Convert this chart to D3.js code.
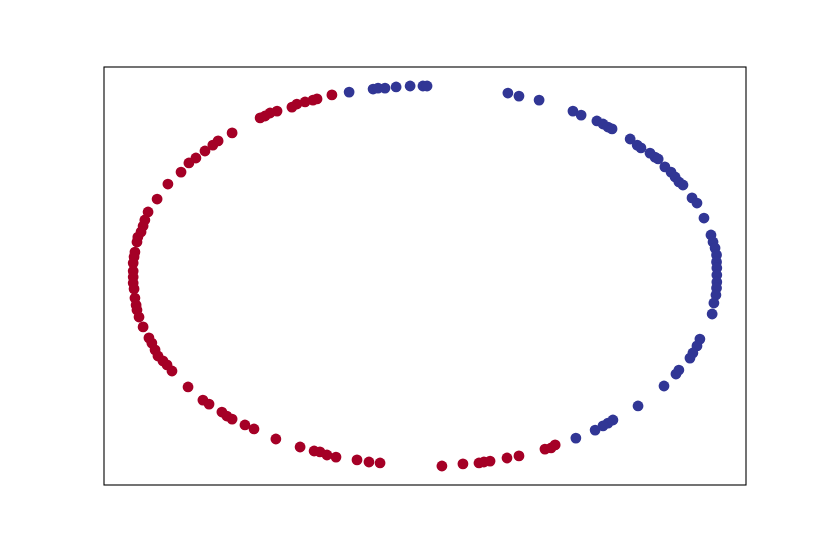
<!DOCTYPE html>
<html>
<head>
<meta charset="utf-8">
<script src="https://cdn.jsdelivr.net/npm/d3@7"></script>
<style>
  body { margin: 0; background: #fff; }
  svg { display: block; }
</style>
</head>
<body>
<div id="chart"></div>
<script>
// points, in data units (circle of radius 1)
var redX = [-0.319,-0.370,-0.384,-0.411,-0.439,-0.456,-0.507,-0.531,-0.548,-0.565,
            -0.661,-0.709,-0.727,-0.754,-0.785,-0.809,-0.836,-0.881,-0.918,-0.949,
            -0.960,-0.966,-0.973,-0.984,-0.987,-0.994,-0.997,-1.000,-1.000,-1.000,
            -1.000,-0.997,-0.994,-0.990,-0.987,-0.980,-0.966,-0.946,-0.936,-0.925,
            -0.915,-0.898,-0.884,-0.867,-0.812,-0.761,-0.740,-0.696,-0.679,-0.661,
            -0.617,-0.586,-0.511,-0.428,-0.380,-0.360,-0.336,-0.305,-0.233,-0.192,
            -0.154,0.058,0.130,0.185,0.202,0.223,0.281,0.322,0.411,0.432,0.446];
var redY = [0.953,0.932,0.926,0.916,0.905,0.889,0.868,0.858,0.842,0.832,
            0.753,0.711,0.689,0.658,0.621,0.595,0.547,0.484,0.405,0.337,
            0.295,0.263,0.232,0.205,0.179,0.126,0.100,0.068,0.026,-0.005,
            -0.037,-0.068,-0.116,-0.153,-0.179,-0.216,-0.268,-0.326,-0.353,-0.389,
            -0.421,-0.447,-0.468,-0.500,-0.584,-0.653,-0.674,-0.716,-0.737,-0.753,
            -0.784,-0.805,-0.858,-0.900,-0.921,-0.926,-0.942,-0.953,-0.968,-0.979,
            -0.984,-1.000,-0.989,-0.984,-0.979,-0.974,-0.958,-0.947,-0.911,-0.905,-0.889];

var blueX = [-0.260,-0.178,-0.161,-0.137,-0.099,-0.051,-0.007,0.007,0.284,0.322,
             0.391,0.507,0.535,0.589,0.610,0.627,0.641,0.703,0.727,0.740,
             0.771,0.788,0.799,0.822,0.843,0.857,0.870,0.884,0.915,0.932,
             0.956,0.980,0.987,0.994,0.999,0.999,1.000,1.000,1.000,0.999,
             0.997,0.990,0.984,0.942,0.932,0.918,0.908,0.870,0.860,0.819,
             0.730,0.644,0.627,0.610,0.583,0.517];
var blueY = [0.968,0.984,0.989,0.989,0.995,1.000,1.000,1.000,0.963,0.947,
             0.926,0.868,0.847,0.816,0.800,0.784,0.774,0.721,0.689,0.674,
             0.647,0.626,0.616,0.574,0.547,0.521,0.495,0.479,0.411,0.384,
             0.305,0.216,0.179,0.147,0.111,0.074,0.042,0.005,-0.032,-0.063,
             -0.100,-0.142,-0.200,-0.332,-0.368,-0.405,-0.432,-0.495,-0.516,-0.579,
             -0.684,-0.758,-0.774,-0.789,-0.811,-0.853];

var classColors = ["#a50026", "#313695"];

var width = 830,
    height = 554;

var frame = { left: 104, right: 746, top: 67, bottom: 485 };

var x = d3.scaleLinear().domain([-1.1, 1.1]).range([frame.left, frame.right]);
var y = d3.scaleLinear().domain([-1.1, 1.1]).range([frame.bottom, frame.top]);

var svg = d3.select('#chart')
  .append('svg')
    .attr('width', width)
    .attr('height', height);

svg.append('rect')
  .attr('width', width)
  .attr('height', height)
  .style('fill', '#fff');

var points = [];
redX.forEach(function(d, i) { points.push({ x: d, y: redY[i], c: 0 }); });
blueX.forEach(function(d, i) { points.push({ x: d, y: blueY[i], c: 1 }); });

svg.selectAll('.dot')
  .data(points)
  .enter()
  .append('circle')
    .attr('class', 'dot')
    .attr('cx', function(d) { return x(d.x); })
    .attr('cy', function(d) { return y(d.y); })
    .attr('r', 5.4)
    .style('fill', function(d) { return classColors[d.c]; });

// axes frame, no ticks
svg.append('rect')
  .attr('x', frame.left)
  .attr('y', frame.top)
  .attr('width', frame.right - frame.left)
  .attr('height', frame.bottom - frame.top)
  .style('fill', 'none')
  .style('stroke', '#000')
  .style('stroke-width', 1.1);
</script>
</body>
</html>
